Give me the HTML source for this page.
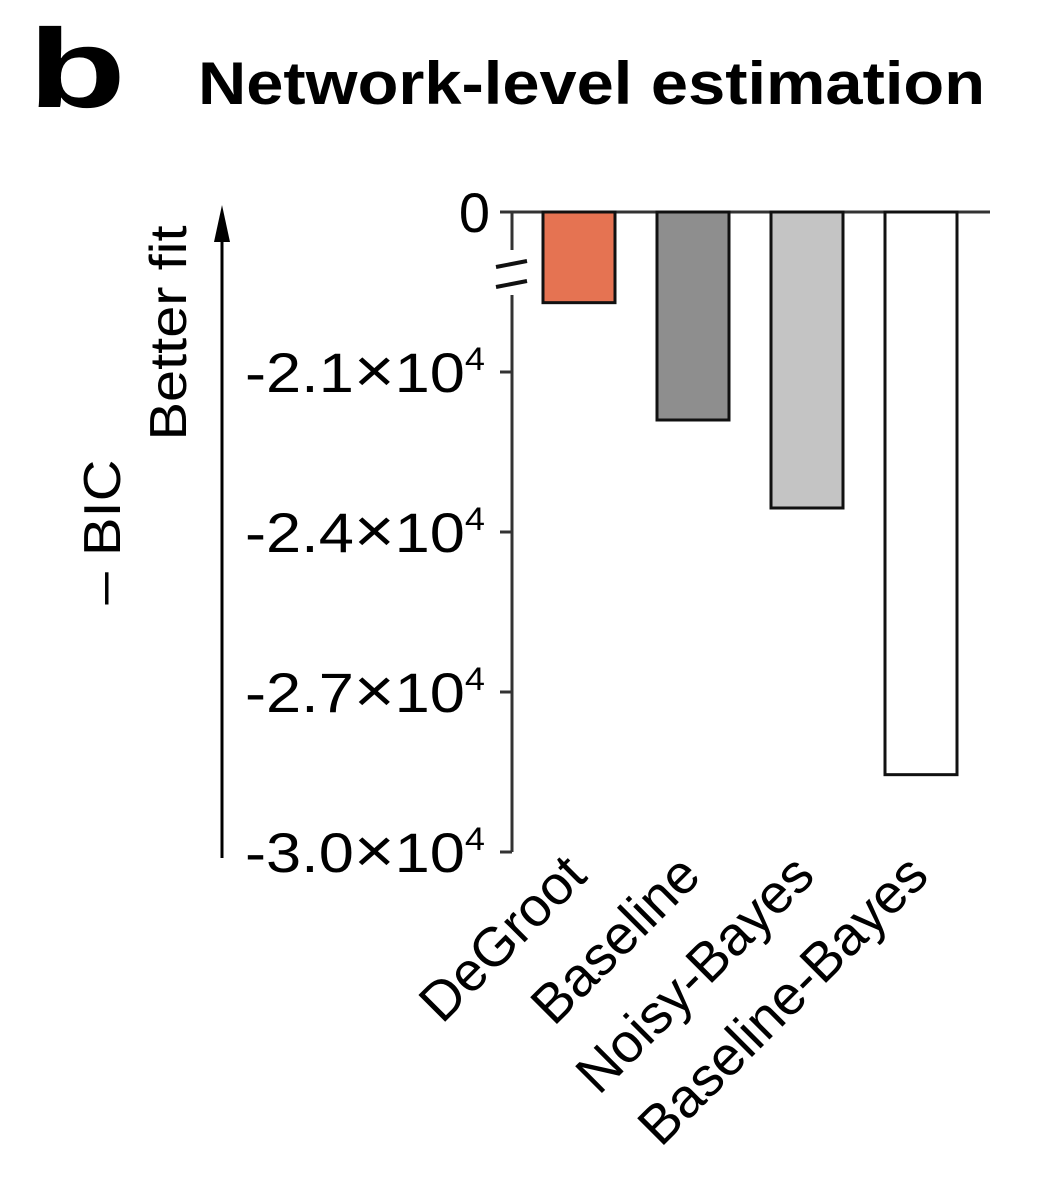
<!DOCTYPE html>
<html><head><meta charset="utf-8"><style>
html,body{margin:0;padding:0;background:#fff;}
svg{display:block;font-family:"Liberation Sans",Arial,sans-serif;}
</style></head><body>
<svg id="chart" width="1064" height="1178" viewBox="0 0 1064 1178" xmlns="http://www.w3.org/2000/svg">
<text x="28" y="107" font-size="112" font-weight="bold" textLength="98" lengthAdjust="spacingAndGlyphs">b</text>
<text x="198" y="104" font-size="60" font-weight="bold" textLength="787" lengthAdjust="spacingAndGlyphs">Network-level estimation</text>
<g id="axes"></g>
<g id="bars"></g>
<g id="labels"></g>
</svg>
<script>
const categories = ["DeGroot","Baseline","Noisy-Bayes","Baseline-Bayes"];
const values = [-19700,-21900,-23550,-28550];
const fills = ["#e57352","#8e8e8e","#c4c4c4","#ffffff"];
const tickValues = [-21000,-24000,-27000,-30000];
const tickLabels = ["-2.1","-2.4","-2.7","-3.0"];
const NS="http://www.w3.org/2000/svg";
const zeroY=212, axisX=512;
function yScale(v){ return 372 + (-21000 - v)*160/3000; }
function xScale(i){ return 543 + i*114; }
const barW=72;
function mk(tag, attrs, parent){ const e=document.createElementNS(NS,tag); for(const k in attrs) e.setAttribute(k,attrs[k]); parent.appendChild(e); return e; }
const axes=document.getElementById('axes'), bars=document.getElementById('bars'), labels=document.getElementById('labels');
let l=mk('line',{x1:axisX,y1:zeroY,x2:990,y2:zeroY,stroke:'#333','stroke-width':3},axes);
 
l=mk('line',{x1:axisX,y1:zeroY,x2:axisX,y2:250,stroke:'#333','stroke-width':3},axes);
 
l=mk('line',{x1:axisX,y1:295,x2:axisX,y2:yScale(-30000),stroke:'#333','stroke-width':3},axes);
 
l=mk('line',{x1:496,y1:267,x2:527,y2:261,stroke:'#111','stroke-width':4},axes);
 
l=mk('line',{x1:496,y1:287,x2:527,y2:281,stroke:'#111','stroke-width':4},axes);
 
l=mk('line',{x1:axisX-12,y1:zeroY,x2:axisX,y2:zeroY,stroke:'#333','stroke-width':3},axes);
 
let t=mk('text',{x:490,y:zeroY+20,'font-size':56,'text-anchor':'end'},axes); t.textContent='0';
 
tickValues.forEach((v,i)=>{
  const y=yScale(v);
  const tk=mk('line',{x1:axisX-12,y1:y,x2:axisX,y2:y,stroke:'#333','stroke-width':3},axes);
   
  const tx=mk('text',{x:245,y:y+20,'font-size':56,textLength:240,lengthAdjust:'spacingAndGlyphs'},axes);
   
  tx.innerHTML=tickLabels[i]+'<tspan font-size="62">×</tspan>10<tspan dy="-22" font-size="32">4</tspan>';
});
l=mk('line',{x1:222,y1:858,x2:222,y2:240,stroke:'#000','stroke-width':3},axes);
 
let p=mk('polygon',{points:'222,205 214,242 230,242',fill:'#000'},axes);
 
t=mk('text',{x:0,y:0,'font-size':52,'text-anchor':'middle',textLength:215,lengthAdjust:'spacingAndGlyphs',transform:'translate(186,333) rotate(-90)'},axes); t.textContent='Better fit';
 
t=mk('text',{x:0,y:0,'font-size':52,'text-anchor':'middle',textLength:145,lengthAdjust:'spacingAndGlyphs',transform:'translate(120,532) rotate(-90)'},axes); t.textContent='– BIC';
 
values.forEach((v,i)=>{
  const x=xScale(i), y=yScale(v);
  const r=mk('rect',{x:x,y:zeroY,width:barW,height:y-zeroY,fill:fills[i],stroke:'#111','stroke-width':3},bars);
  
  
  const cx=x+barW/2+10, cy=878;
  const lb=mk('text',{x:0,y:0,'font-size':55,'text-anchor':'end',transform:`translate(${cx},${cy}) rotate(-45)`},labels);
  lb.textContent=categories[i];
  
  
});
</script>
</body></html>
